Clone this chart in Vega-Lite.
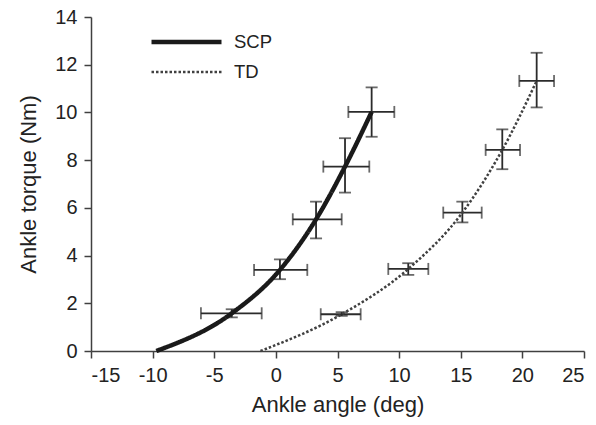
{
  "$schema": "https://vega.github.io/schema/vega-lite/v6.json",
  "width": 493,
  "height": 334,
  "autosize": "none",
  "padding": {"left": 91, "top": 17, "right": 12, "bottom": 74},
  "background": "white",
  "config": {
    "view": {"stroke": null},
    "font": "Liberation Sans",
    "axis": {
      "grid": false,
      "domainColor": "#404040",
      "domainWidth": 1.5,
      "tickColor": "#404040",
      "tickWidth": 1.5,
      "tickSize": 7,
      "labelPadding": 7,
      "labelFont": "Liberation Sans",
      "labelFontSize": 20,
      "labelColor": "#222222",
      "titleFont": "Liberation Sans",
      "titleFontSize": 22,
      "titleFontWeight": "normal",
      "titleColor": "#222222",
      "labelExpr": "datum.value + ''"
    },
    "legend": {
      "title": null, "orient": "none", "legendX": 58, "legendY": 11,
      "padding": 0, "symbolType": "stroke", "symbolSize": 4900,
      "labelFontSize": 18.5, "labelColor": "#222222", "labelFont": "Liberation Sans",
      "labelOffset": 10, "rowPadding": 2, "clipHeight": 28
    }
  },
  "datasets": {
    "curves": [
      {"group": "SCP", "angle": -9.7, "torque": 0},
      {"group": "SCP", "angle": -3.58, "torque": 1.58},
      {"group": "SCP", "angle": 0.33, "torque": 3.4},
      {"group": "SCP", "angle": 3.26, "torque": 5.52},
      {"group": "SCP", "angle": 5.61, "torque": 7.73},
      {"group": "SCP", "angle": 7.77, "torque": 10.02},
      {"group": "TD", "angle": -1.25, "torque": 0},
      {"group": "TD", "angle": 5.34, "torque": 1.54},
      {"group": "TD", "angle": 10.74, "torque": 3.44},
      {"group": "TD", "angle": 15.13, "torque": 5.8},
      {"group": "TD", "angle": 18.37, "torque": 8.43},
      {"group": "TD", "angle": 21.16, "torque": 11.32}
    ],
    "points": [
      {"group": "SCP", "angle": -3.58, "angleLo": -6.08, "angleHi": -1.15, "torque": 1.58, "torqueLo": 1.41, "torqueHi": 1.75},
      {"group": "SCP", "angle": 0.33, "angleLo": -1.77, "angleHi": 2.55, "torque": 3.4, "torqueLo": 3.01, "torqueHi": 3.84},
      {"group": "SCP", "angle": 3.26, "angleLo": 1.37, "angleHi": 5.34, "torque": 5.52, "torqueLo": 4.72, "torqueHi": 6.26},
      {"group": "SCP", "angle": 5.61, "angleLo": 3.85, "angleHi": 7.58, "torque": 7.73, "torqueLo": 6.64, "torqueHi": 8.92},
      {"group": "SCP", "angle": 7.77, "angleLo": 5.88, "angleHi": 9.61, "torque": 10.02, "torqueLo": 8.98, "torqueHi": 11.05},
      {"group": "TD", "angle": 5.34, "angleLo": 3.64, "angleHi": 6.88, "torque": 1.54, "torqueLo": 1.47, "torqueHi": 1.63},
      {"group": "TD", "angle": 10.74, "angleLo": 9.12, "angleHi": 12.37, "torque": 3.44, "torqueLo": 3.19, "torqueHi": 3.68},
      {"group": "TD", "angle": 15.13, "angleLo": 13.58, "angleHi": 16.7, "torque": 5.8, "torqueLo": 5.39, "torqueHi": 6.26},
      {"group": "TD", "angle": 18.37, "angleLo": 17.02, "angleHi": 19.81, "torque": 8.43, "torqueLo": 7.62, "torqueHi": 9.29},
      {"group": "TD", "angle": 21.16, "angleLo": 19.75, "angleHi": 22.57, "torque": 11.32, "torqueLo": 10.21, "torqueHi": 12.5}
    ]
  },
  "encoding": {
    "x": {
      "field": "angle", "type": "quantitative",
      "scale": {"domain": [-15, 25], "nice": false, "zero": false},
      "axis": {"title": "Ankle angle (deg)", "values": [-15, -10, -5, 0, 5, 10, 15, 20, 25], "titlePadding": 9}
    },
    "y": {
      "field": "torque", "type": "quantitative",
      "scale": {"domain": [0, 14], "nice": false},
      "axis": {"title": "Ankle torque (Nm)", "values": [0, 2, 4, 6, 8, 10, 12, 14], "titlePadding": 14}
    }
  },
  "layer": [
    {
      "data": {"name": "points"},
      "mark": {"type": "rule", "color": "#2b2b2b", "strokeWidth": 1.8},
      "encoding": {"x": {"field": "angleLo", "type": "quantitative"}, "x2": {"field": "angleHi"}}
    },
    {
      "data": {"name": "points"},
      "mark": {"type": "rule", "color": "#2b2b2b", "strokeWidth": 1.8},
      "encoding": {"y": {"field": "torqueLo", "type": "quantitative"}, "y2": {"field": "torqueHi"}}
    },
    {
      "data": {"name": "points"},
      "mark": {"type": "tick", "orient": "vertical", "size": 12, "thickness": 1.8, "color": "#2b2b2b"},
      "encoding": {"x": {"field": "angleLo", "type": "quantitative"}}
    },
    {
      "data": {"name": "points"},
      "mark": {"type": "tick", "orient": "vertical", "size": 12, "thickness": 1.8, "color": "#2b2b2b"},
      "encoding": {"x": {"field": "angleHi", "type": "quantitative"}}
    },
    {
      "data": {"name": "points"},
      "mark": {"type": "tick", "orient": "horizontal", "size": 12, "thickness": 1.8, "color": "#2b2b2b"},
      "encoding": {"y": {"field": "torqueLo", "type": "quantitative"}}
    },
    {
      "data": {"name": "points"},
      "mark": {"type": "tick", "orient": "horizontal", "size": 12, "thickness": 1.8, "color": "#2b2b2b"},
      "encoding": {"y": {"field": "torqueHi", "type": "quantitative"}}
    },
    {
      "data": {"name": "curves"},
      "mark": {"type": "line", "interpolate": "monotone", "strokeCap": "butt"},
      "encoding": {
        "color": {
          "field": "group", "type": "nominal",
          "scale": {"domain": ["SCP", "TD"], "range": ["#1a1a1a", "#404040"]}
        },
        "strokeDash": {
          "field": "group", "type": "nominal",
          "scale": {"domain": ["SCP", "TD"], "range": [[1, 0], [2.5, 2]]}
        },
        "strokeWidth": {
          "field": "group", "type": "nominal",
          "scale": {"domain": ["SCP", "TD"], "range": [4.5, 2.5]}
        }
      }
    }
  ]
}
